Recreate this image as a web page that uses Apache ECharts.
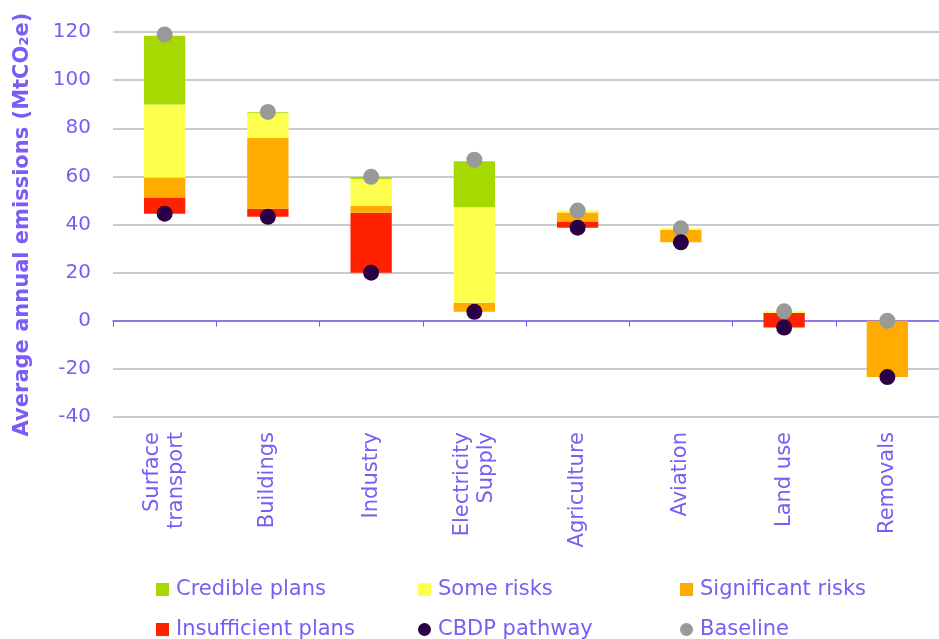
<!DOCTYPE html>
<html lang="en">
<head>
<meta charset="UTF-8">
<title>Emissions by sector</title>
<script src="https://cdn.jsdelivr.net/npm/echarts@6/dist/echarts.min.js"></script>
<style>
  html, body { margin: 0; padding: 0; background: #fff; }
  #chart { width: 939px; height: 639px; }
</style>
</head>
<body>
<div id="chart"></div>
<script>
// sectors
var sectors = ['Surface\ntransport', 'Buildings', 'Industry', 'Electricity\nSupply', 'Agriculture', 'Aviation', 'Land use', 'Removals'];
// CBDP pathway level = bottom of each bar
var cbdp = [44.5, 43.2, 20, 3.7, 38.7, 32.6, -2.8, -23.4];
// segment heights stacked upward from the pathway
var insufficient = [6.5, 3.3, 24.9, 0, 2.5, 0, 6.0, 0];
var significant = [8.5, 29.5, 2.8, 3.8, 3.8, 5.2, 0, 23.4];
var someRisks = [30.4, 10.2, 11.2, 39.7, 0.8, 0.6, 0.7, 0];
var credible = [28.5, 0.5, 0.7, 19.1, 0, 0, 0, 0];
var baseline = [119, 86.8, 59.8, 66.9, 45.8, 38.4, 3.9, 0];
var yTicks = [-40, 120, 20]; // min, max, step

var purple = '#7b5cf5';
var font = 'DejaVu Sans';

var chart = echarts.init(document.getElementById('chart'));

function seg(name, data, color) {
    return {
        name: name,
        type: 'bar',
        stack: 'all',
        stackStrategy: 'all',
        barWidth: '40%',
        data: data,
        itemStyle: { color: color },
        emphasis: { disabled: true }
    };
}

// one legend per entry so each sits where the original puts it
function legendItem(left, top, name, icon) {
    return {
        left: left,
        top: top,
        itemWidth: 13,
        itemHeight: 13,
        data: [{ name: name, icon: icon }],
        textStyle: { color: purple, fontSize: 21, fontFamily: font, padding: [0, 0, 0, 2] },
        selectedMode: false
    };
}

var option = {
    animation: false,
    grid: { left: 113, right: 0, top: 32, bottom: 222 },
    legend: [
        legendItem(151, 574, 'Credible plans', 'rect'),
        legendItem(151, 614, 'Insufficient plans', 'rect'),
        legendItem(413, 574, 'Some risks', 'rect'),
        legendItem(413, 614, 'CBDP pathway', 'circle'),
        legendItem(675, 574, 'Significant risks', 'rect'),
        legendItem(675, 614, 'Baseline', 'circle')
    ],
    xAxis: {
        type: 'category',
        data: sectors,
        axisLine: { onZero: true, lineStyle: { color: purple, width: 1.5 } },
        axisTick: { show: true, length: 6, lineStyle: { color: purple } },
        axisLabel: {
            rotate: 90,
            margin: 15,
            color: purple,
            fontSize: 21,
            fontFamily: font,
            lineHeight: 24
        }
    },
    yAxis: {
        type: 'value',
        min: yTicks[0],
        max: yTicks[1],
        interval: yTicks[2],
        name: 'Average annual emissions (MtCO\u2082e)',
        nameLocation: 'middle',
        nameRotate: 90,
        nameGap: 80,
        nameTextStyle: { color: purple, fontSize: 21, fontWeight: 'bold', fontFamily: font },
        axisLine: { show: false },
        axisTick: { show: false },
        axisLabel: { color: purple, fontSize: 20, fontFamily: font, margin: 22 },
        splitLine: { lineStyle: { color: '#b8b8b8', width: 1.5 } }
    },
    series: [
        {
            name: 'base',
            type: 'bar',
            stack: 'all',
            stackStrategy: 'all',
            barWidth: '40%',
            data: cbdp,
            itemStyle: { color: 'transparent' },
            emphasis: { disabled: true },
            silent: true
        },
        seg('Insufficient plans', insufficient, '#ff2200'),
        seg('Significant risks', significant, '#ffab00'),
        seg('Some risks', someRisks, '#ffff4d'),
        seg('Credible plans', credible, '#a5d900'),
        {
            name: 'Baseline',
            type: 'scatter',
            data: baseline,
            symbolSize: 16,
            itemStyle: { color: '#999999', opacity: 1 },
            z: 5
        },
        {
            name: 'CBDP pathway',
            type: 'scatter',
            data: cbdp,
            symbolSize: 16,
            itemStyle: { color: '#2a0044', opacity: 1 },
            z: 6
        }
    ]
};

chart.setOption(option);
</script>
</body>
</html>
